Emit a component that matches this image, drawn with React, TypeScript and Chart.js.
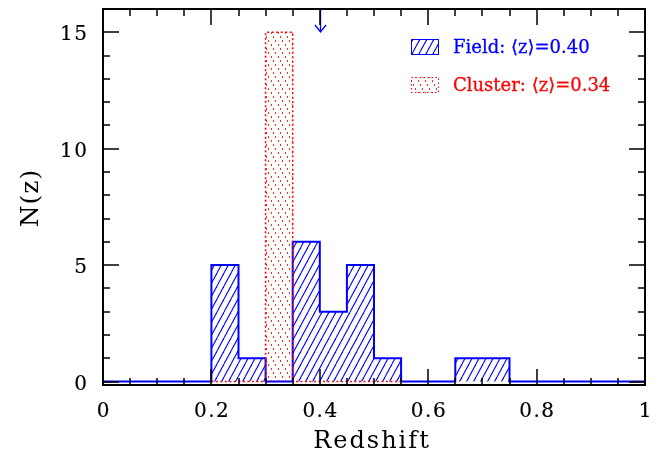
import React, { useEffect, useRef } from "react";
import { Chart, registerables } from "chart.js";
Chart.register(...registerables);

// ---- data ----
const binWidth = 0.05;
const fieldEdges = [0, 0.05, 0.1, 0.15, 0.2, 0.25, 0.3, 0.35, 0.4, 0.45, 0.5, 0.55, 0.6, 0.65, 0.7, 0.75, 0.8, 0.85, 0.9, 0.95];
const fieldCounts = [0, 0, 0, 0, 5, 1, 0, 6, 3, 5, 1, 0, 0, 1, 1, 0, 0, 0, 0, 0];
const clusterEdges = [0.2, 0.25, 0.3, 0.35, 0.4, 0.45, 0.5];
const clusterCounts = [0, 0, 15, 0, 0, 0, 0];
const fieldMean = 0.4;
const xMajorTicks = [0, 0.2, 0.4, 0.6, 0.8, 1];
const xTickLabels = ["0", "0.2", "0.4", "0.6", "0.8", "1"];
const yMajorTicks = [0, 5, 10, 15];
const yTickLabels = ["0", "5", "10", "15"];
const legendLabels = ["Field: \u27E8z\u27E9=0.40", "Cluster: \u27E8z\u27E9=0.34"];
const xTitle = "Redshift";
const yTitle = "N(z)";

const BLUE = "#0000ff";
const RED = "#ff0000";
const FONT = "'DejaVu Serif', serif";

function stepPoints(edges: number[], counts: number[]) {
  const pts = edges.map((x, i) => ({ x, y: counts[i] }));
  pts.push({ x: +(edges[edges.length - 1] + binWidth).toFixed(4), y: 0 });
  return pts;
}

function makeHatch(ctx: CanvasRenderingContext2D, color: string) {
  const c = document.createElement("canvas");
  c.width = 7;
  c.height = 13;
  const g = c.getContext("2d")!;
  g.strokeStyle = color;
  g.lineWidth = 1.1;
  for (const dx of [-7, 0, 7]) {
    g.beginPath();
    g.moveTo(dx, 13);
    g.lineTo(dx + 7, 0);
    g.stroke();
  }
  return ctx.createPattern(c, "repeat")!;
}

function makeDots(ctx: CanvasRenderingContext2D, color: string) {
  const c = document.createElement("canvas");
  c.width = 7;
  c.height = 12;
  const g = c.getContext("2d")!;
  g.fillStyle = color;
  g.globalAlpha = 0.85;
  g.fillRect(0, 0, 1, 2);
  g.fillRect(2, 4, 1, 2);
  g.fillRect(5, 8, 1, 2);
  return ctx.createPattern(c, "repeat")!;
}

function txt(c: CanvasRenderingContext2D, text: string, x: number, y: number, w: number) {
  c.fillText(text, x, y);
  if (w > 0) {
    c.lineWidth = w;
    c.strokeText(text, x, y);
  }
}

export default function App() {
  const ref = useRef<HTMLCanvasElement>(null);
  useEffect(() => {
    document.body.style.margin = "0";
    document.body.style.overflow = "hidden";
    const canvas = ref.current!;
    const ctx = canvas.getContext("2d")!;
    const hatch = makeHatch(ctx, BLUE);
    const dots = makeDots(ctx, RED);

    const decor = {
      id: "decor",
      afterDatasetsDraw(chart: any) {
        const c = chart.ctx as any;
        const { left, right, top, bottom } = chart.chartArea;
        const xs = chart.scales.x;
        const ys = chart.scales.y;
        c.save();
        // arrow at mean field redshift
        const ax = Math.round(xs.getPixelForValue(fieldMean)) + 0.5;
        const tip = top + 23;
        c.strokeStyle = BLUE;
        c.lineWidth = 1.3;
        c.beginPath();
        c.moveTo(ax, top);
        c.lineTo(ax, tip);
        c.moveTo(ax - 5.5, tip - 7);
        c.lineTo(ax, tip);
        c.lineTo(ax + 5.5, tip - 7);
        c.stroke();

        // ticks on all four sides
        c.strokeStyle = "#000";
        c.lineWidth = 1.5;
        c.beginPath();
        for (let i = 0; i <= 20; i++) {
          const v = i * 0.05;
          const major = i % 4 === 0;
          const len = major ? 16 : 7;
          const px = Math.round(xs.getPixelForValue(v));
          c.moveTo(px, bottom);
          c.lineTo(px, bottom - len);
          c.moveTo(px, top);
          c.lineTo(px, top + len);
        }
        for (let v = 0; v <= 16; v++) {
          const major = v % 5 === 0;
          const len = major ? 16 : 7;
          const py = Math.round(ys.getPixelForValue(v));
          if (py < top + 1) continue;
          c.moveTo(left, py);
          c.lineTo(left + len, py);
          c.moveTo(right, py);
          c.lineTo(right - len, py);
        }
        c.stroke();

        // frame
        c.lineWidth = 2;
        c.strokeRect(left, top, right - left, bottom - top);

        // tick labels
        c.fillStyle = "#000";
        c.strokeStyle = "#000";
        c.font = `20px ${FONT}`;
        c.letterSpacing = "1.5px";
        c.textBaseline = "alphabetic";
        c.textAlign = "center";
        xMajorTicks.forEach((v, i) => {
          txt(c, xTickLabels[i], xs.getPixelForValue(v) + 0.75, bottom + 31.5, 0.2);
        });
        c.textAlign = "right";
        yMajorTicks.forEach((v, i) => {
          txt(c, yTickLabels[i], left - 14.5, ys.getPixelForValue(v) + 8, 0.2);
        });

        // axis titles
        c.font = `24px ${FONT}`;
        c.letterSpacing = "2px";
        c.textAlign = "center";
        txt(c, xTitle, (left + right) / 2 - 2, bottom + 63, 0);
        c.save();
        c.letterSpacing = "1px";
        c.font = `25px ${FONT}`;
        c.translate(38, (top + bottom) / 2 + 1);
        c.rotate(-Math.PI / 2);
        c.textAlign = "center";
        txt(c, yTitle, 0, 0, 0);
        c.restore();

        // legend
        c.letterSpacing = "0px";
        const bx = 411, bw = 28, bh = 16;
        const rows = [
          { y: 39, fill: hatch, stroke: BLUE, dash: [] as number[], color: BLUE },
          { y: 77, fill: dots, stroke: RED, dash: [1.5, 2.5], color: RED },
        ];
        c.font = `18px ${FONT}`;
        c.textBaseline = "alphabetic";
        c.textAlign = "left";
        rows.forEach((r, i) => {
          c.fillStyle = r.fill;
          c.fillRect(bx, r.y, bw, bh);
          c.strokeStyle = r.stroke;
          c.lineWidth = 1;
          c.setLineDash(r.dash);
          c.strokeRect(bx + 0.5, r.y + 0.5, bw - 1, bh - 1);
          c.setLineDash([]);
          c.fillStyle = r.color;
          txt(c, legendLabels[i], 453, r.y + 14, 0.3);
        });
        c.restore();
      },
    };

    const chart = new Chart(ctx, {
      type: "line",
      data: {
        datasets: [
          {
            label: "Cluster",
            data: stepPoints(clusterEdges, clusterCounts),
            stepped: true,
            borderColor: RED,
            borderWidth: 1.5,
            borderDash: [2, 2.5],
            backgroundColor: dots,
            fill: "origin",
            pointRadius: 0,
          },
          {
            label: "Field",
            data: stepPoints(fieldEdges, fieldCounts),
            stepped: true,
            borderColor: BLUE,
            borderWidth: 2,
            backgroundColor: hatch,
            fill: "origin",
            pointRadius: 0,
          },
        ],
      },
      options: {
        responsive: false,
        animation: false,
        devicePixelRatio: 1,
        layout: { padding: { top: 9, right: 12, left: 103, bottom: 68 } },
        plugins: { legend: { display: false }, tooltip: { enabled: false } },
        scales: {
          x: { type: "linear", min: 0, max: 1, display: false },
          y: { type: "linear", min: -0.15, max: 16, display: false },
        },
      },
      plugins: [decor],
    } as any);
    return () => chart.destroy();
  }, []);
  return (
    <div style={{ position: "absolute", left: 0, top: 0, width: 657, height: 453 }}>
      <canvas ref={ref} width={657} height={453} style={{ display: "block" }} />
    </div>
  );
}
